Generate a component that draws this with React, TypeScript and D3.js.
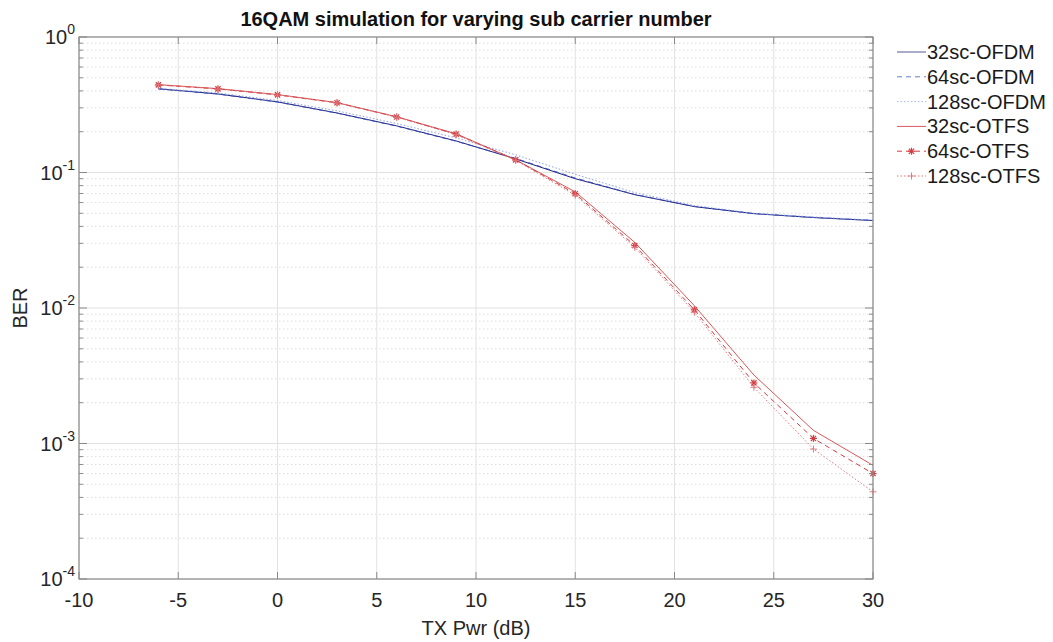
import React from "react";
import * as d3 from "d3";

const txPwr = [-6, -3, 0, 3, 6, 9, 12, 15, 18, 21, 24, 27, 30];
const ofdm32 = [0.415, 0.38, 0.332, 0.275, 0.221, 0.171, 0.126, 0.09, 0.0686, 0.056, 0.0497, 0.0465, 0.0442];
const ofdm64 = [0.414, 0.379, 0.331, 0.274, 0.22, 0.17, 0.127, 0.091, 0.0688, 0.0562, 0.0498, 0.0466, 0.0443];
const ofdm128 = [0.418, 0.386, 0.34, 0.285, 0.23, 0.18, 0.135, 0.097, 0.071, 0.057, 0.05, 0.047, 0.0445];
const otfs32 = [0.445, 0.416, 0.376, 0.328, 0.258, 0.193, 0.124, 0.072, 0.0305, 0.0104, 0.0032, 0.00125, 0.00069];
const otfs64 = [0.443, 0.414, 0.374, 0.327, 0.257, 0.192, 0.124, 0.0697, 0.0289, 0.0097, 0.0028, 0.00109, 0.0006];
const otfs128 = [0.443, 0.413, 0.373, 0.326, 0.256, 0.19, 0.123, 0.068, 0.028, 0.0093, 0.0026, 0.00091, 0.00044];

const xTicks = [-10, -5, 0, 5, 10, 15, 20, 25, 30];
const yExps = [0, -1, -2, -3, -4];

const seriesNames = ["32sc-OFDM", "64sc-OFDM", "128sc-OFDM", "32sc-OTFS", "64sc-OTFS", "128sc-OTFS"];
const seriesValues = [ofdm32, ofdm64, ofdm128, otfs32, otfs64, otfs128];
const seriesColors = ["#1c1f78", "#3a4fc0", "#8f9ee0", "#d8585a", "#d23c40", "#e07a80"];
const seriesDash = ["", "5,4", "1.5,2", "", "5,4", "1.5,2"];
const seriesMarker = ["", "", "", "", "star", "plus"];

const W = 1053, H = 642;
const L = 79, R = 873, T = 37, B = 579;
const FONT = "'Liberation Sans', Arial, Helvetica, sans-serif";

function Marker({ type, x, y, color }: { type: string; x: number; y: number; color: string }) {
  const s = 3.5;
  if (type === "plus") {
    return (
      <g stroke={color} strokeWidth={1}>
        <line x1={x - s} x2={x + s} y1={y} y2={y} />
        <line x1={x} x2={x} y1={y - s} y2={y + s} />
      </g>
    );
  }
  if (type === "star") {
    const d = s * 0.75;
    return (
      <g stroke={color} strokeWidth={1.2}>
        <line x1={x - s} x2={x + s} y1={y} y2={y} />
        <line x1={x} x2={x} y1={y - s} y2={y + s} />
        <line x1={x - d} x2={x + d} y1={y - d} y2={y + d} />
        <line x1={x - d} x2={x + d} y1={y + d} y2={y - d} />
      </g>
    );
  }
  return null;
}

export default function App() {
  const x = d3.scaleLinear().domain([-10, 30]).range([L, R]);
  const y = d3.scaleLog().domain([1e-4, 1]).range([B, T]);
  const line = d3
    .line<number>()
    .x((_, i) => x(txPwr[i]))
    .y((v) => y(v));

  const minors: number[] = [];
  for (let e = -4; e < 0; e++) {
    for (let m = 2; m <= 9; m++) minors.push(m * Math.pow(10, e));
  }

  return (
    <svg width={W} height={H} style={{ position: "absolute", left: 0, top: 0, background: "#fff" }} fontFamily={FONT}>
      <rect x={0} y={0} width={W} height={H} fill="#fff" />
      {/* grid */}
      {minors.map((v, i) => (
        <line key={"mg" + i} x1={L} x2={R} y1={y(v)} y2={y(v)} stroke="#dedede" strokeWidth={1} strokeDasharray="1.5,2.5" />
      ))}
      {yExps.map((e) => (
        <line key={"yg" + e} x1={L} x2={R} y1={y(Math.pow(10, e))} y2={y(Math.pow(10, e))} stroke="#e2e2e2" strokeWidth={1} />
      ))}
      {xTicks.map((t) => (
        <line key={"xg" + t} x1={x(t)} x2={x(t)} y1={T} y2={B} stroke="#e2e2e2" strokeWidth={1} />
      ))}
      {/* lines */}
      {seriesValues.map((vals, si) => (
        <path
          key={"s" + si}
          d={line(vals) || ""}
          fill="none"
          stroke={seriesColors[si]}
          strokeWidth={1}
          strokeDasharray={seriesDash[si] || undefined}
        />
      ))}
      {seriesValues.map((vals, si) =>
        seriesMarker[si]
          ? vals.map((v, i) => <Marker key={"m" + si + "-" + i} type={seriesMarker[si]} x={x(txPwr[i])} y={y(v)} color={seriesColors[si]} />)
          : null
      )}
      {/* axes box */}
      <rect x={L} y={T} width={R - L} height={B - T} fill="none" stroke="#8a8a8a" strokeWidth={1.2} />
      {/* ticks */}
      {xTicks.map((t) => (
        <g key={"xt" + t} stroke="#8a8a8a">
          <line x1={x(t)} x2={x(t)} y1={B} y2={B - 7} />
          <line x1={x(t)} x2={x(t)} y1={T} y2={T + 7} />
        </g>
      ))}
      {yExps.map((e) => (
        <g key={"yt" + e} stroke="#8a8a8a">
          <line x1={L} x2={L + 8} y1={y(Math.pow(10, e))} y2={y(Math.pow(10, e))} />
          <line x1={R} x2={R - 8} y1={y(Math.pow(10, e))} y2={y(Math.pow(10, e))} />
        </g>
      ))}
      {minors.map((v, i) => (
        <g key={"ymt" + i} stroke="#8a8a8a">
          <line x1={L} x2={L + 4} y1={y(v)} y2={y(v)} />
          <line x1={R} x2={R - 4} y1={y(v)} y2={y(v)} />
        </g>
      ))}
      {/* tick labels */}
      {xTicks.map((t) => (
        <text key={"xl" + t} x={x(t)} y={607} textAnchor="middle" fontSize={20} fill="#262626">
          {t}
        </text>
      ))}
      {yExps.map((e) => (
        <text key={"yl" + e} x={75} y={y(Math.pow(10, e)) + 7} textAnchor="end" fontSize={20} fill="#262626">
          10
          <tspan dy={-10} fontSize={14}>
            {e}
          </tspan>
        </text>
      ))}
      {/* axis labels */}
      <text x={(L + R) / 2} y={635} textAnchor="middle" fontSize={20} fill="#262626">
        TX Pwr (dB)
      </text>
      <text transform={`translate(27,${(T + B) / 2}) rotate(-90)`} textAnchor="middle" fontSize={20} fill="#262626">
        BER
      </text>
      <text x={(L + R) / 2} y={26} textAnchor="middle" fontSize={20} fontWeight="bold" fill="#111">
        16QAM simulation for varying sub carrier number
      </text>
      {/* legend */}
      {seriesNames.map((n, i) => {
        const ly = 52 + i * 24.8;
        return (
          <g key={"lg" + i}>
            <line x1={897} x2={926} y1={ly} y2={ly} stroke={seriesColors[i]} strokeWidth={1} strokeDasharray={seriesDash[i] || undefined} opacity={i < 3 ? 0.75 : 1} />
            {seriesMarker[i] ? <Marker type={seriesMarker[i]} x={911.5} y={ly} color={seriesColors[i]} /> : null}
            <text x={927} y={ly + 7} fontSize={20} fill="#1a1a1a">
              {n}
            </text>
          </g>
        );
      })}
    </svg>
  );
}
